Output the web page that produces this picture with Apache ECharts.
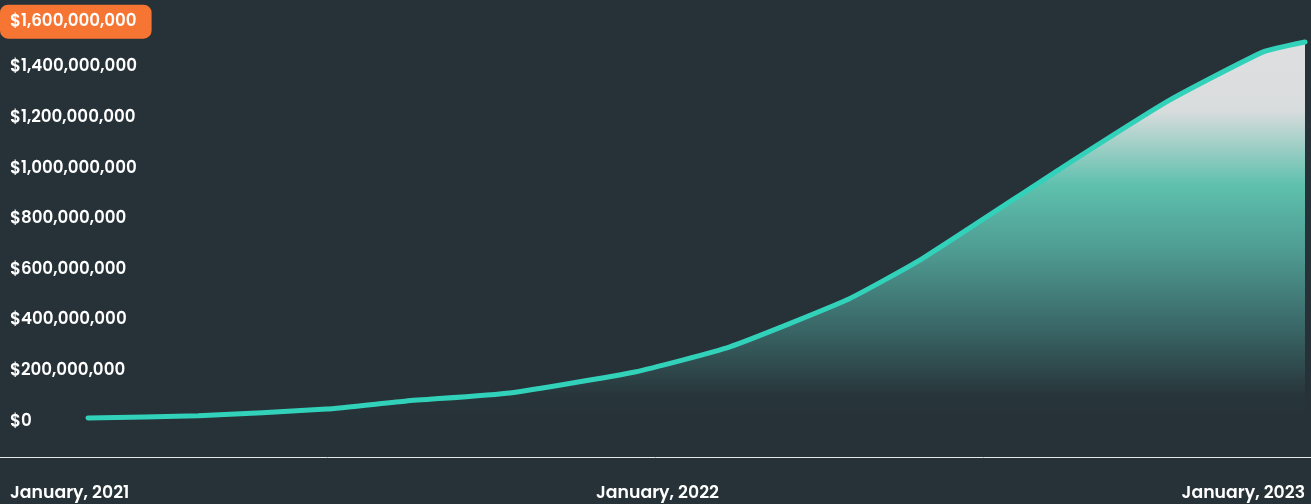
<!DOCTYPE html>
<html>
<head>
<meta charset="utf-8">
<script src="https://cdn.jsdelivr.net/npm/echarts@6/dist/echarts.min.js"></script>
<style>
  html, body { margin: 0; padding: 0; background: #263238; }
  #main { width: 1311px; height: 504px; }
</style>
</head>
<body>
<div id="main"></div>
<script>
// data
var dates = ['2021-01-01', '2021-03-08', '2021-05-24', '2021-07-11', '2021-09-11', '2021-11-25',
             '2022-01-21', '2022-04-01', '2022-05-16', '2022-08-07', '2022-10-12', '2022-12-07', '2023-01-01'];
var values = [8e6, 17e6, 43e6, 75e6, 107e6, 190e6,
              289e6, 474e6, 636e6, 992e6, 1265e6, 1455e6, 1494e6];
var yTicks = [0, 200e6, 400e6, 600e6, 800e6, 1000e6, 1200e6, 1400e6, 1600e6];
var xLabels = ['January, 2021', 'January, 2022', 'January, 2023'];

var font = "'Poppins', 'Open Sans', sans-serif";

function money(v) {
    return '$' + v.toLocaleString('en-US');
}

var chart = echarts.init(document.getElementById('main'));
var option = {
    backgroundColor: '#263238',
    animation: false,
    grid: [
        {left: 88, right: 6, top: 15.2, bottom: 84, outerBoundsMode: 'none'},
        {left: 0, right: 0, top: 456, height: 1, outerBoundsMode: 'none'}
    ],
    xAxis: [
        {
            type: 'time',
            gridIndex: 0,
            min: dates[0],
            max: dates[dates.length - 1],
            show: false
        },
        {
            // label axis: the three year marks spread over the full width
            type: 'value',
            gridIndex: 1,
            min: 0,
            max: xLabels.length - 1,
            interval: 1,
            axisLine: {show: true, lineStyle: {color: '#e6e8e9', width: 1}},
            axisTick: {show: false},
            splitLine: {show: false},
            axisLabel: {
                color: '#ffffff',
                fontFamily: font,
                fontWeight: 600,
                fontSize: 17.3,
                margin: 28,
                padding: [0, 6, 0, 10],
                alignMinLabel: 'left',
                alignMaxLabel: 'right',
                formatter: function (v) { return xLabels[v] || ''; }
            }
        }
    ],
    yAxis: [
        {
            type: 'value',
            gridIndex: 0,
            min: yTicks[0],
            max: yTicks[yTicks.length - 1],
            interval: 200e6,
            axisLine: {show: false},
            axisTick: {show: false},
            splitLine: {show: false},
            axisLabel: {
                align: 'left',
                margin: 88,
                color: '#ffffff',
                fontFamily: font,
                fontWeight: 600,
                fontSize: 16.7,
                lineHeight: 14,
                formatter: function (v) {
                    if (v === yTicks[yTicks.length - 1]) {
                        return '{sp| }\n{hi|' + money(v) + '}';
                    }
                    return '{n|' + money(v) + '}';
                },
                rich: {
                    n: {
                        color: '#ffffff', fontFamily: font, fontWeight: 600, fontSize: 16.7,
                        padding: [3, 0, 0, 10]
                    },
                    sp: {fontSize: 8, lineHeight: 13},
                    hi: {
                        color: '#ffffff', fontFamily: font, fontWeight: 600, fontSize: 16.7,
                        backgroundColor: '#f67533',
                        borderRadius: 8,
                        padding: [9, 15, 8, 10]
                    }
                }
            }
        },
        {
            type: 'category',
            gridIndex: 1,
            data: [''],
            show: false
        }
    ],
    series: [{
        type: 'line',
        xAxisIndex: 0,
        yAxisIndex: 0,
        data: dates.map(function (d, i) { return [d, values[i]]; }),
        smooth: 0.15,
        showSymbol: false,
        lineStyle: {color: '#32d1ba', width: 5, cap: 'round', join: 'round'},
        areaStyle: {
            opacity: 1,
            color: new echarts.graphic.LinearGradient(0, 0, 0, 1, [
                {offset: 0, color: '#dedfe1'},
                {offset: 0.18, color: '#d9dcdd'},
                {offset: 0.38, color: '#5ec0ad'},
                {offset: 0.55, color: '#4f9c92'},
                {offset: 0.75, color: '#3a6868'},
                {offset: 0.93, color: '#28363b'},
                {offset: 1, color: '#263238'}
            ])
        }
    }]
};
chart.setOption(option);
</script>
</body>
</html>
